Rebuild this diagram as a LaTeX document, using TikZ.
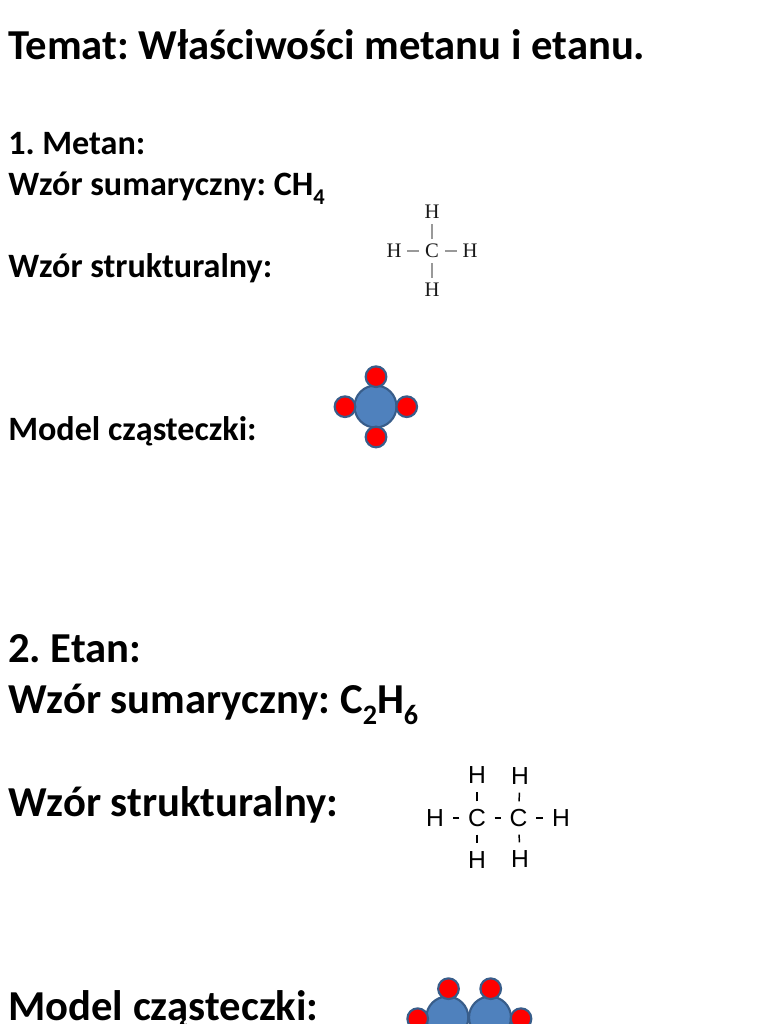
\documentclass[tikz,border=0pt]{standalone}
\usepackage{fontspec}
\setmainfont{Carlito}
\newfontfamily\serifchem{Liberation Serif}
\newfontfamily\sanschem{Liberation Sans}
\newcommand{\lowsub}[1]{\raisebox{-0.28em}{\scalebox{0.66}{#1}}}
\frenchspacing
\tikzset{
  x=0.75pt,y=-0.75pt,
  head/.style={anchor=base west,inner sep=0pt,font=\frenchspacing\bfseries\fontsize{32}{32}\selectfont},
  small/.style={anchor=base west,inner sep=0pt,font=\frenchspacing\bfseries\fontsize{25.6}{26}\selectfont},
  big/.style={anchor=base west,inner sep=0pt,font=\frenchspacing\bfseries\fontsize{32}{32}\selectfont},
  atomA/.style={inner sep=0pt,font=\serifchem\fontsize{15.5}{15.5}\selectfont,text=black!90},
  atomB/.style={inner sep=0pt,font=\sanschem\fontsize{18.5}{18.5}\selectfont,text=black},
  bondAv/.style={draw=black!40,line width=0.8pt,shorten >=9pt,shorten <=9pt},
  bondAh/.style={draw=black!40,line width=0.8pt,shorten >=10pt,shorten <=10pt},
  bondBv/.style={draw=black,line width=1.1pt,shorten >=12.5pt,shorten <=12.5pt},
  bondBh/.style={draw=black,line width=1.5pt,shorten >=13.3pt,shorten <=13.3pt},
  carbon/.style={circle,draw=blue1,fill=blue2,line width=1.6pt,minimum size=31.5pt,inner sep=0pt},
  hydrogen/.style={circle,draw=blue1,fill=red,line width=1.6pt,minimum size=15.5pt,inner sep=0pt},
}
\definecolor{blue1}{HTML}{385D8A}
\definecolor{blue2}{HTML}{4F81BD}
\begin{document}
\begin{tikzpicture}
\useasboundingbox (0,0) rectangle (768,1024);
\clip (0,0) rectangle (768,1024);
\fill[white] (0,0) rectangle (768,1024);
\node[head] (title) at (8,60) {Temat: Właściwości metanu i etanu.};
\node[small] (t1) at (8,154) {1. Metan:};
\node[small] (t2) at (8,195) {Wzór sumaryczny: CH\lowsub{4}};
\node[small] (t3) at (8,277) {Wzór strukturalny:};
\node[small] (t4) at (8,440) {Model cząsteczki:};
\node[big] (t5) at (8,662) {2. Etan:};
\node[big] (t6) at (8,713) {Wzór sumaryczny: C\lowsub{2}H\lowsub{6}};
\node[big] (t7) at (8,816) {Wzór strukturalny:};
\node[big] (t8) at (8,1020) {Model cząsteczki:};
% methane formula
\node[atomA] (mc) at (432,251) {C};
\node[atomA] (mt) at (432,212) {H};
\node[atomA] (mb) at (432,290) {H};
\node[atomA] (ml) at (394,251) {H};
\node[atomA] (mr) at (470,251) {H};
\draw[bondAv] (mc.center) -- (mt.center);
\draw[bondAv] (mc.center) -- (mb.center);
\draw[bondAh] (mc.center) -- (ml.center);
\draw[bondAh] (mc.center) -- (mr.center);
% methane model
\node[carbon] (mC) at (375.5,406.5) {};
\node[hydrogen] (m1) at (376,376.7) {};
\node[hydrogen] (m2) at (345,406.7) {};
\node[hydrogen] (m3) at (406.7,406.7) {};
\node[hydrogen] (m4) at (376,437) {};
% ethane formula
\node[atomB] (c1) at (477,818) {C};
\node[atomB] (c2) at (518.5,818) {C};
\node[atomB] (h1) at (477,775) {H};
\node[atomB] (h2) at (520,776) {H};
\node[atomB] (h3) at (477,860) {H};
\node[atomB] (h4) at (520,859) {H};
\node[atomB] (h5) at (435,818) {H};
\node[atomB] (h6) at (561,818) {H};
\draw[bondBv] (c1.center) -- (h1.center);
\draw[bondBv] (c2.center) -- (h2.center);
\draw[bondBv] (c1.center) -- (h3.center);
\draw[bondBv] (c2.center) -- (h4.center);
\draw[bondBh] (c1.center) -- (h5.center);
\draw[bondBh] (c1.center) -- (c2.center);
\draw[bondBh] (c2.center) -- (h6.center);
% ethane model
\node[carbon] (eC1) at (447.3,1017.5) {};
\node[carbon] (eC2) at (490,1017.5) {};
\node[hydrogen] (e1) at (448.5,988.7) {};
\node[hydrogen] (e2) at (490.7,988.7) {};
\node[hydrogen] (e3) at (417.7,1018.7) {};
\node[hydrogen] (e4) at (521,1018.7) {};
\end{tikzpicture}
\end{document}
